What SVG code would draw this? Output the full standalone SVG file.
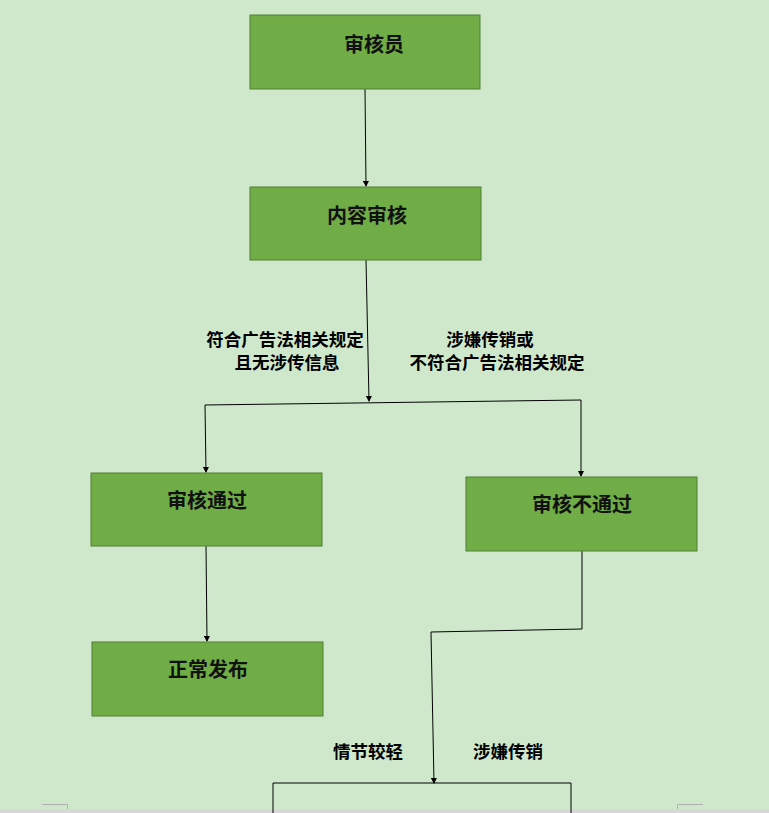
<svg xmlns="http://www.w3.org/2000/svg" width="769" height="813" viewBox="0 0 769 813">
<defs>
<style>
.box{fill:#70ad47;stroke:#507e32;stroke-width:1}
.bt{font-family:"Noto Sans CJK SC","Noto Sans",sans-serif;font-size:20px;font-weight:bold;fill:#111;text-anchor:middle}
.lb{font-family:"Noto Sans CJK SC","Noto Sans",sans-serif;font-size:17.5px;font-weight:bold;fill:#000;text-anchor:middle}
.ln{fill:none;stroke:#000;stroke-width:1}
.ar{fill:none;stroke:#000;stroke-width:1;marker-end:url(#ah)}
.cm{fill:none;stroke:#b0b0b0;stroke-width:1}
</style>
<marker id="ah" markerWidth="6" markerHeight="6" refX="5" refY="3" orient="auto" markerUnits="userSpaceOnUse">
<path d="M0,0 L6,3 L0,6 z" fill="#000"/>
</marker>
</defs>
<rect x="0" y="0" width="769" height="813" fill="#cfe8cc"/>
<rect x="0" y="809" width="769" height="4" fill="#d8d8d8"/>
<path class="cm" d="M42,804.5 H67.5 V809 M703,804.5 H677.5 V809"/>
<g id="connectors">
<path class="ar" d="M365,89 L366,186"/>
<path class="ar" d="M366,260 L369,401"/>
<path class="ln" d="M205,405 L581,400"/>
<path class="ar" d="M205,405 L206,472"/>
<path class="ar" d="M581,400 L581,476"/>
<path class="ar" d="M206,546 L207,641"/>
<path class="ln" d="M582,551 L582,629 L431,632"/>
<path class="ar" d="M431,632 L434,783"/>
<path class="ln" d="M273,813 L273,783 L571,783 L571,813"/>
</g>
<g id="n1"><rect class="box" x="250" y="15" width="230" height="74"/><text class="bt" x="374" y="52">审核员</text></g>
<g id="n2"><rect class="box" x="250" y="187" width="231" height="73"/><text class="bt" x="367" y="223">内容审核</text></g>
<g id="lbl1"><text class="lb" x="285" y="346">符合广告法相关规定</text><text class="lb" x="287" y="369">且无涉传信息</text></g>
<g id="lbl2"><text class="lb" x="490" y="346">涉嫌传销或</text><text class="lb" x="497" y="369">不符合广告法相关规定</text></g>
<g id="n3"><rect class="box" x="91" y="473" width="231" height="73"/><text class="bt" x="207" y="508">审核通过</text></g>
<g id="n4"><rect class="box" x="466" y="477" width="231" height="74"/><text class="bt" x="582" y="512">审核不通过</text></g>
<g id="n5"><rect class="box" x="92" y="642" width="231" height="74"/><text class="bt" x="208" y="677">正常发布</text></g>
<g id="lbl3"><text class="lb" x="368" y="758">情节较轻</text></g>
<g id="lbl4"><text class="lb" x="508" y="758">涉嫌传销</text></g>
</svg>
